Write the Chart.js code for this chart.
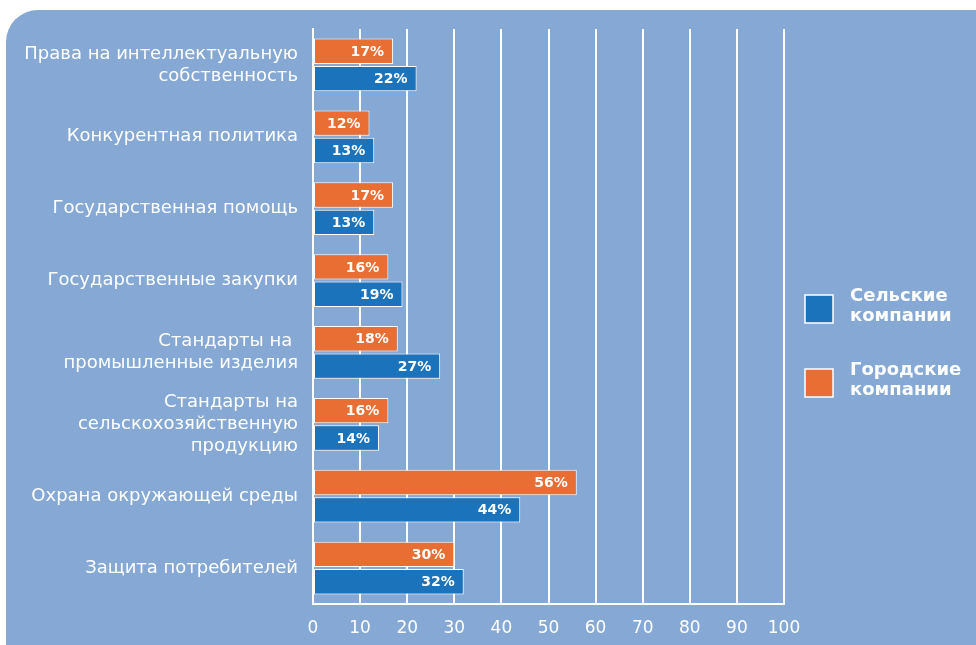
<!DOCTYPE html>
<html>
<head>
<meta charset="utf-8">
<script src="https://cdn.jsdelivr.net/npm/chart.js@4"></script>
<style>
  html, body { margin: 0; padding: 0; background: #fff; }
  #wrap { width: 976px; height: 645px; position: relative; }
</style>
</head>
<body>
<div id="wrap"><canvas id="chart"></canvas></div>
<script>
const categories = [
    ['Права на интеллектуальную', 'собственность'],
    'Конкурентная политика',
    'Государственная помощь',
    'Государственные закупки',
    ['Стандарты на ', 'промышленные изделия'],
    ['Стандарты на', 'сельскохозяйственную', 'продукцию'],
    'Охрана окружающей среды',
    'Защита потребителей'
];
const urbanValues = [17, 12, 17, 16, 18, 16, 56, 30];
const ruralValues = [22, 13, 13, 19, 27, 14, 44, 32];
const xTicks = [0, 10, 20, 30, 40, 50, 60, 70, 80, 90, 100];

const legendLabels = {
    'Сельские компании': ['Сельские', 'компании'],
    'Городские компании': ['Городские', 'компании']
};

const FONT = '"DejaVu Sans", Verdana, sans-serif';
const BG = '#85a9d4';
const ORANGE = '#e86e33';
const BLUE = '#1b74bb';

// rounded panel behind everything
const panelPlugin = {
    id: 'panel',
    beforeDraw(chart) {
        const ctx = chart.ctx;
        ctx.save();
        ctx.fillStyle = BG;
        ctx.beginPath();
        ctx.roundRect(6, 10, 1000, 700, 32);
        ctx.fill();
        ctx.restore();
    }
};

// percent labels inside the bar ends
const valueLabels = {
    id: 'valueLabels',
    afterDatasetsDraw(chart) {
        const ctx = chart.ctx;
        ctx.save();
        ctx.font = 'bold 14px ' + FONT;
        ctx.fillStyle = '#fff';
        ctx.textAlign = 'right';
        ctx.textBaseline = 'middle';
        chart.data.datasets.forEach((ds, i) => {
            chart.getDatasetMeta(i).data.forEach((bar, j) => {
                ctx.fillText(ds.data[j] + '%', bar.x - 9, bar.y + 1);
            });
        });
        ctx.restore();
    }
};

// legend on the right, rural first
const sideLegend = {
    id: 'sideLegend',
    afterDraw(chart) {
        const ctx = chart.ctx;
        const items = chart.data.datasets.slice().reverse();
        ctx.save();
        ctx.font = 'bold 18px ' + FONT;
        ctx.textBaseline = 'middle';
        items.forEach((ds, i) => {
            const top = 295 + i * 74;
            ctx.fillStyle = ds.backgroundColor;
            ctx.fillRect(805, top, 28, 28);
            ctx.strokeStyle = '#fff';
            ctx.lineWidth = 1.5;
            ctx.strokeRect(805, top, 28, 28);
            ctx.fillStyle = '#fff';
            const lines = legendLabels[ds.label];
            lines.forEach((t, k) => ctx.fillText(t, 850, top + 1 + k * 20));
        });
        ctx.restore();
    }
};

new Chart(document.getElementById('chart'), {
    type: 'bar',
    data: {
        labels: categories,
        datasets: [
            {
                label: 'Городские компании',
                data: urbanValues,
                backgroundColor: ORANGE,
                borderColor: '#fff',
                borderWidth: 1,
                borderSkipped: false
            },
            {
                label: 'Сельские компании',
                data: ruralValues,
                backgroundColor: BLUE,
                borderColor: '#fff',
                borderWidth: 1,
                borderSkipped: false
            }
        ]
    },
    options: {
        indexAxis: 'y',
        responsive: true,
        maintainAspectRatio: false,
        animation: false,
        devicePixelRatio: 1,
        categoryPercentage: 0.76,
        barPercentage: 0.93,
        layout: { padding: { left: 0, top: 29, right: 192, bottom: 0 } },
        plugins: {
            legend: { display: false },
            tooltip: { enabled: false }
        },
        scales: {
            x: {
                min: 0,
                max: 100,
                afterBuildTicks: (scale) => { scale.ticks = xTicks.map(v => ({ value: v })); },
                afterFit: (scale) => { scale.height = 41; },
                grid: { color: '#fff', lineWidth: 2, drawTicks: false },
                border: { color: '#fff', width: 2 },
                ticks: {
                    color: '#fff',
                    padding: 14,
                    font: { family: FONT, size: 17 }
                }
            },
            y: {
                afterFit: (scale) => { scale.width = 313; },
                grid: { display: false, drawTicks: false },
                border: { color: '#fff', width: 2 },
                ticks: {
                    color: '#fff',
                    padding: 15,
                    font: { family: FONT, size: 18, lineHeight: 1.22 }
                }
            }
        }
    },
    plugins: [panelPlugin, valueLabels, sideLegend]
});
</script>
</body>
</html>
